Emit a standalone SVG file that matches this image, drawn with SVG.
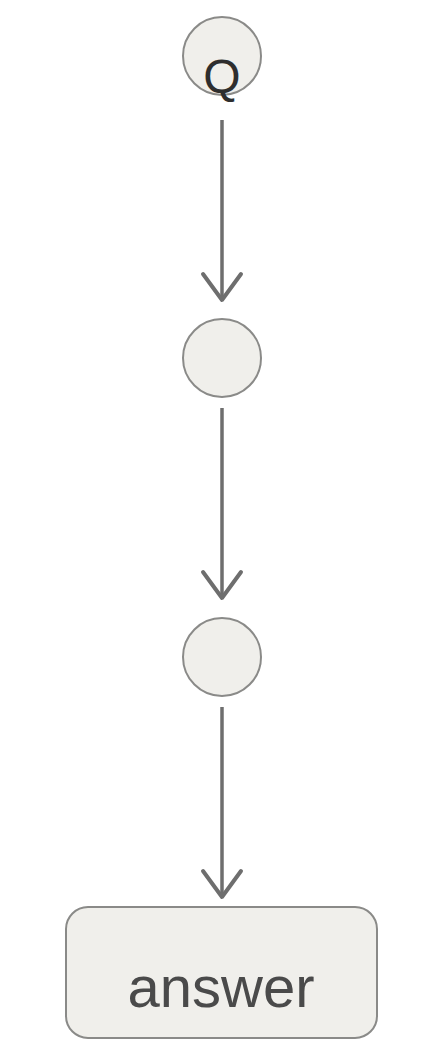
<svg xmlns="http://www.w3.org/2000/svg" width="436" height="1040" viewBox="0 0 436 1040">
<style>
.node{fill:#f0efeb;stroke:#8a8a88;stroke-width:2}
.lbl{font-family:"Liberation Sans",Arial,sans-serif;fill:#4a4a4a;text-anchor:middle}
.q{fill:#2e2e2e}
.edge{stroke:#6e6e6e;stroke-width:3.5;fill:none}
.head{stroke:#6e6e6e;stroke-width:4;fill:none;stroke-linecap:round;stroke-linejoin:round}
</style>
<rect width="436" height="1040" fill="#ffffff"/>
<g id="connectors">
<line class="edge" x1="222" y1="120" x2="222" y2="300"/>
<polyline class="head" points="203,274 222,300 241,274"/>
<line class="edge" x1="222" y1="408" x2="222" y2="598"/>
<polyline class="head" points="203,572 222,598 241,572"/>
<line class="edge" x1="222" y1="707" x2="222" y2="897"/>
<polyline class="head" points="203,871 222,897 241,871"/>
</g>
<g id="node-q">
<circle class="node" cx="222" cy="56" r="39"/>
<text class="lbl q" x="222" y="93" font-size="48">Q</text>
</g>
<g id="node-2">
<circle class="node" cx="222" cy="358" r="39"/>
</g>
<g id="node-3">
<circle class="node" cx="222" cy="657" r="39"/>
</g>
<g id="node-answer">
<rect class="node" x="66" y="907" width="311" height="131" rx="22"/>
<text class="lbl" x="221" y="1007" font-size="58">answer</text>
</g>
</svg>
